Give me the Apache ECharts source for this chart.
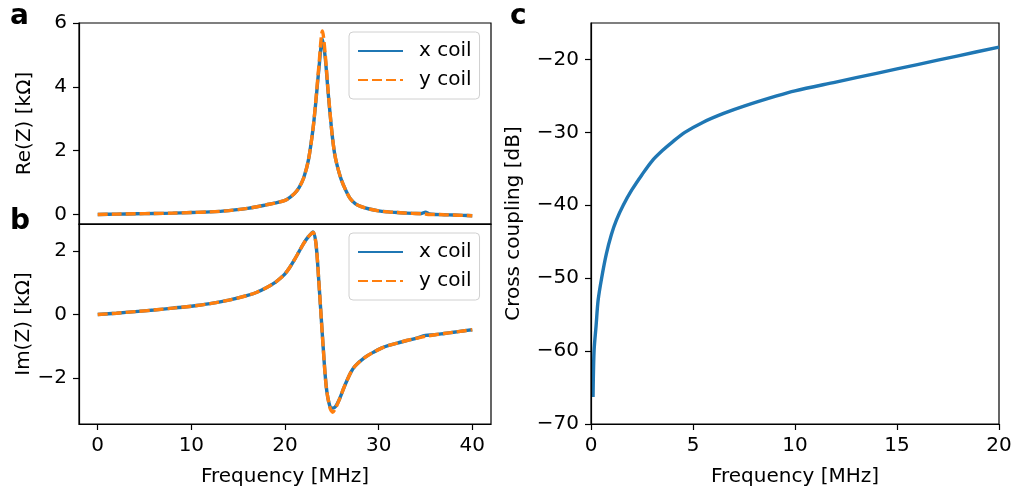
<!DOCTYPE html>
<html>
<head>
<meta charset="utf-8">
<script src="https://cdn.jsdelivr.net/npm/echarts@6.0.0/dist/echarts.min.js"></script>
<style>
  html, body { margin: 0; padding: 0; background: #fff; }
  #chart { width: 1017px; height: 489px; }
</style>
</head>
<body>
<div id="chart"></div>
<script>
var FONT = "DejaVu Sans";
var BLUE = "#1f77b4";
var ORANGE = "#ff7f0e";

// panel a: Re(Z) in kOhm
var reFreq = [0, 2, 4, 6, 8, 10, 12, 14, 16, 17, 18, 19, 20, 20.5, 21, 21.5, 22, 22.5, 23, 23.3, 23.6, 24, 24.3, 24.6, 25, 25.3, 25.6, 26, 26.5, 27, 27.5, 28, 29, 30, 31, 32, 33, 34, 34.6, 35, 35.4, 36, 37, 38, 39, 40];
var reX = [0, 0.01, 0.02, 0.03, 0.04, 0.06, 0.08, 0.12, 0.19, 0.24, 0.3, 0.36, 0.44, 0.53, 0.65, 0.84, 1.15, 1.7, 2.7, 3.55, 4.5, 5.5, 4.9, 3.85, 2.6, 1.9, 1.5, 1.1, 0.75, 0.48, 0.34, 0.26, 0.17, 0.11, 0.08, 0.06, 0.04, 0.03, 0.03, 0.07, 0.02, 0.0, -0.01, -0.02, -0.03, -0.04];
var reY = [0, 0.01, 0.02, 0.03, 0.04, 0.06, 0.08, 0.12, 0.19, 0.24, 0.3, 0.36, 0.44, 0.53, 0.65, 0.84, 1.15, 1.7, 2.7, 3.6, 4.6, 5.75, 5.0, 3.9, 2.6, 1.9, 1.5, 1.1, 0.75, 0.48, 0.34, 0.26, 0.17, 0.11, 0.08, 0.06, 0.04, 0.03, 0.02, 0.01, 0.0, 0.0, -0.01, -0.02, -0.03, -0.04];

// panel b: Im(Z) in kOhm
var imFreq = [0, 2, 4, 6, 8, 10, 12, 14, 16, 17, 18, 19, 19.5, 20, 20.5, 21, 21.5, 22, 22.5, 23, 23.3, 23.6, 24, 24.4, 24.8, 25.1, 25.4, 25.8, 26.3, 27, 27.5, 28.5, 29.5, 30.3, 31, 32, 33, 34, 35, 36, 37, 38, 39, 40];
var imX = [0, 0.04, 0.09, 0.14, 0.2, 0.26, 0.34, 0.45, 0.6, 0.7, 0.84, 1.02, 1.14, 1.28, 1.48, 1.72, 1.98, 2.24, 2.45, 2.6, 2.25, 1.1, -0.69, -2.26, -2.9, -2.95, -2.9, -2.68, -2.3, -1.84, -1.62, -1.36, -1.18, -1.06, -0.98, -0.9, -0.82, -0.75, -0.66, -0.64, -0.6, -0.56, -0.52, -0.48];
var imY = [0, 0.04, 0.09, 0.14, 0.2, 0.26, 0.34, 0.45, 0.6, 0.7, 0.84, 1.02, 1.14, 1.28, 1.48, 1.72, 1.98, 2.24, 2.45, 2.58, 2.25, 1.1, -0.69, -2.26, -2.94, -3.08, -2.95, -2.68, -2.3, -1.84, -1.62, -1.36, -1.18, -1.06, -0.98, -0.9, -0.82, -0.75, -0.69, -0.64, -0.6, -0.56, -0.52, -0.48];

// panel c: cross coupling in dB
var ccFreq = [0.1, 0.15, 0.25, 0.35, 0.52, 0.75, 1.0, 1.25, 1.58, 2, 2.5, 3, 3.5, 4, 4.6, 5.5, 6.5, 7.5, 9.1, 10, 12, 14, 16, 18, 20];
var ccVal = [-66.3, -60, -56.5, -53, -50, -46.7, -44, -42, -40, -37.9, -35.8, -33.9, -32.5, -31.3, -30, -28.6, -27.4, -26.4, -25, -24.3, -23.1, -21.9, -20.7, -19.5, -18.3];

var ticksLeftX = [0, 10, 20, 30, 40];
var ticksReY = [0, 2, 4, 6];
var ticksImY = [-2, 0, 2];
var ticksCX = [0, 5, 10, 15, 20];
var ticksCY = [-70, -60, -50, -40, -30, -20];

var pairs = (xs, ys) => xs.map((x, i) => [x, ys[i]]);
var minus = (v) => String(v).replace("-", "\u2212");

var txt = { fontFamily: FONT, fontSize: 20, color: "#000" };
var blackLine = { color: "#000", width: 1.2 };

// label-only axis: text and name, no line or ticks
var labelAxis = (gridIndex, pos, min, max, ticks, name, gap) => ({
  type: "value",
  gridIndex: gridIndex,
  position: pos,
  z: 1,
  min: min,
  max: max,
  name: name,
  nameLocation: "middle",
  nameGap: gap,
  nameTextStyle: txt,
  splitLine: { show: false },
  axisLine: { show: false, onZero: false },
  axisTick: { show: false },
  axisLabel: Object.assign(
    { show: !!ticks, customValues: ticks || undefined, margin: 12, formatter: minus, backgroundColor: "transparent", padding: 0 },
    txt
  ),
});

// tick-only axis: line and ticks, no text; drawn above the label axis
var tickAxis = (gridIndex, pos, min, max, ticks) => ({
  type: "value",
  gridIndex: gridIndex,
  position: pos,
  z: 6,
  min: min,
  max: max,
  splitLine: { show: false },
  axisLine: { show: true, onZero: false, lineStyle: blackLine },
  axisTick: ticks
    ? { show: true, length: 6, inside: false, customValues: ticks, lineStyle: blackLine }
    : { show: false },
  axisLabel: { show: false },
});

var legendBox = (top) => ({
  orient: "vertical",
  left: 349,
  top: top,
  padding: [7, 8],
  itemWidth: 45,
  itemHeight: 14,
  itemGap: 5,
  borderColor: "#d0d0d0",
  borderWidth: 1,
  borderRadius: 4,
  backgroundColor: "rgba(255,255,255,0.8)",
  itemStyle: { opacity: 0 },
  textStyle: { fontFamily: FONT, fontSize: 20, color: "#000", lineHeight: 24, padding: [0, 0, 0, 11] },
  data: ["x coil", "y coil"],
});

var lineSeries = (name, xi, yi, data, color, dashed) => ({
  type: "line",
  name: name,
  xAxisIndex: xi,
  yAxisIndex: yi,
  data: data,
  smooth: 0.3,
  symbol: "none",
  showSymbol: false,
  animation: false,
  itemStyle: { color: color },
  lineStyle: { color: color, width: 3.4, type: dashed ? [10, 4] : "solid" },
});

var chart = echarts.init(document.getElementById("chart"), null, { renderer: "canvas" });

var gridBox = (left, top, width, height) => ({
  left: left, top: top, width: width, height: height,
  show: true, borderColor: "#000", borderWidth: 1.2,
  outerBoundsMode: "none", containLabel: false,
});

var option = {
  backgroundColor: "#fff",
  animation: false,
  grid: [
    gridBox(79, 23, 412, 201),
    gridBox(79, 224, 412, 200),
    gridBox(591, 23, 408, 401),
  ],
  legend: [
    Object.assign(legendBox(32), { id: "la" }),
    Object.assign(legendBox(233), { id: "lb" }),
  ],
  xAxis: [
    labelAxis(0, "bottom", -2, 42, null, "", 0),
    labelAxis(1, "bottom", -2, 42, ticksLeftX, "Frequency [MHz]", 43),
    labelAxis(2, "bottom", 0, 20, ticksCX, "Frequency [MHz]", 43),
    tickAxis(0, "bottom", -2, 42, null),
    tickAxis(1, "bottom", -2, 42, ticksLeftX),
    tickAxis(2, "bottom", 0, 20, ticksCX),
  ],
  yAxis: [
    labelAxis(0, "left", -0.3, 6, ticksReY, "Re(Z) [k\u03a9]", 44),
    labelAxis(1, "left", -3.45, 2.85, ticksImY, "Im(Z) [k\u03a9]", 44),
    labelAxis(2, "left", -70, -15, ticksCY, "Cross coupling [dB]", 67),
    tickAxis(0, "left", -0.3, 6, ticksReY),
    tickAxis(1, "left", -3.45, 2.85, ticksImY),
    tickAxis(2, "left", -70, -15, ticksCY),
  ],
  graphic: [
    { type: "text", left: 10, top: 3, style: { text: "a", font: "bold 28px DejaVu Sans", fill: "#000" } },
    { type: "text", left: 10, top: 208, style: { text: "b", font: "bold 28px DejaVu Sans", fill: "#000" } },
    { type: "text", left: 510, top: 3, style: { text: "c", font: "bold 28px DejaVu Sans", fill: "#000" } },
  ],
  series: [
    lineSeries("x coil", 0, 0, pairs(reFreq, reX), BLUE, false),
    lineSeries("y coil", 0, 0, pairs(reFreq, reY), ORANGE, true),
    lineSeries("x coil", 1, 1, pairs(imFreq, imX), BLUE, false),
    lineSeries("y coil", 1, 1, pairs(imFreq, imY), ORANGE, true),
    lineSeries("cc", 2, 2, pairs(ccFreq, ccVal), BLUE, false),
  ],
};

chart.setOption(option);
</script>
</body>
</html>
